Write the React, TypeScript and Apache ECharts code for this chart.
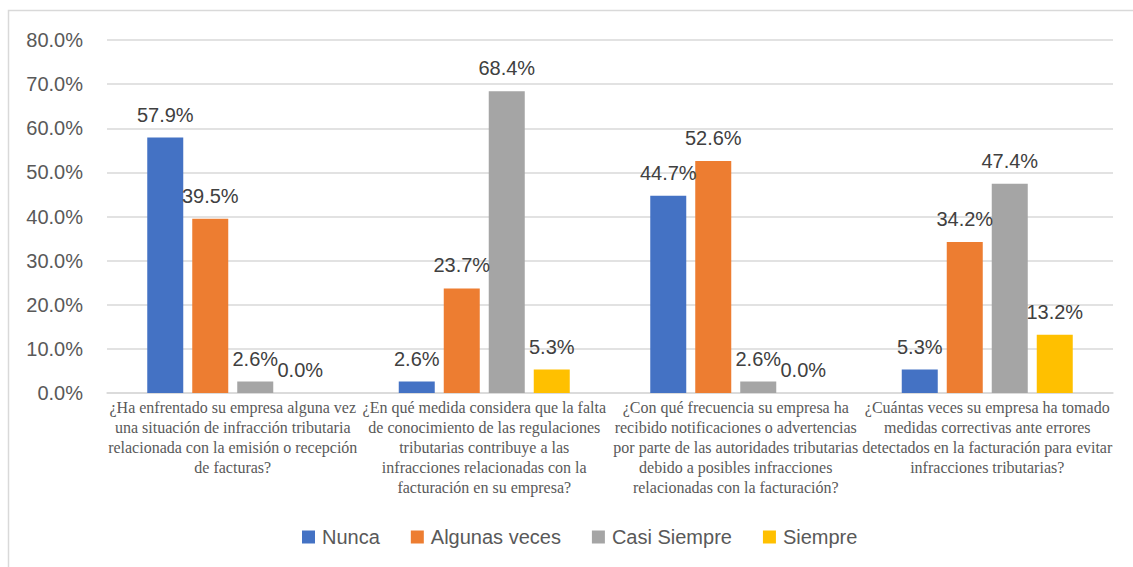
import React, { useEffect, useRef } from "react";
import * as echarts from "echarts";

const categories = [
  "¿Ha enfrentado su empresa alguna vez\nuna situación de infracción tributaria\nrelacionada con la emisión o recepción\nde facturas?",
  "¿En qué medida considera que la falta\nde conocimiento de las regulaciones\ntributarias contribuye a las\ninfracciones relacionadas con la\nfacturación en su empresa?",
  "¿Con qué frecuencia su empresa ha\nrecibido notificaciones o advertencias\npor parte de las autoridades tributarias\ndebido a posibles infracciones\nrelacionadas con la facturación?",
  "¿Cuántas veces su empresa ha tomado\nmedidas correctivas ante errores\ndetectados en la facturación para evitar\ninfracciones tributarias?",
];

const seriesNames = ["Nunca", "Algunas veces", "Casi Siempre", "Siempre"];
const nunca = [57.9, 2.6, 44.7, 5.3];
const algunasVeces = [39.5, 23.7, 52.6, 34.2];
const casiSiempre = [2.6, 68.4, 2.6, 47.4];
const siempre = [0.0, 5.3, 0.0, 13.2];
const seriesValues = [nunca, algunasVeces, casiSiempre, siempre];
const colors = ["#4472C4", "#ED7D31", "#A5A5A5", "#FFC000"];

const yMin = 0;
const yMax = 80;
const yInterval = 10;

const sans = "'Liberation Sans', Arial, sans-serif";
const serif = "'Liberation Serif', 'Times New Roman', serif";

export default function App() {
  const ref = useRef<HTMLDivElement>(null);

  useEffect(() => {
    if (!ref.current) return;
    const chart = echarts.init(ref.current, null, { renderer: "svg" });
    chart.setOption({
      animation: false,
      backgroundColor: "#ffffff",
      graphic: [
        {
          type: "rect",
          shape: { x: 8.5, y: 10.5, width: 1300, height: 700 },
          style: { fill: "none", stroke: "#d9d9d9", lineWidth: 1.5 },
          silent: true,
        },
      ],
      grid: { left: 107, right: 20, top: 40, bottom: 174, containLabel: false },
      legend: {
        left: 297,
        top: 522,
        itemWidth: 13,
        itemHeight: 13,
        itemGap: 31,
        icon: "rect",
        textStyle: { fontFamily: sans, fontSize: 20, color: "#595959", padding: [0, 0, 0, 2] },
        data: seriesNames,
      },
      xAxis: {
        type: "category",
        data: categories,
        axisTick: { show: false },
        axisLine: { lineStyle: { color: "#d9d9d9", width: 1.5 } },
        axisLabel: {
          interval: 0,
          margin: 4,
          fontFamily: serif,
          fontSize: 16,
          lineHeight: 20,
          color: "#595959",
        },
      },
      yAxis: {
        type: "value",
        min: yMin,
        max: yMax,
        interval: yInterval,
        axisLine: { show: false },
        axisTick: { show: false },
        splitLine: { lineStyle: { color: "#d9d9d9", width: 1.5 } },
        axisLabel: {
          margin: 24,
          fontFamily: sans,
          fontSize: 20,
          color: "#595959",
          formatter: (v: number) => v.toFixed(1) + "%",
        },
      },
      series: seriesNames.map((name, i) => ({
        name,
        type: "bar",
        data: seriesValues[i],
        barWidth: 36,
        barGap: "25%",
        itemStyle: { color: colors[i] },
        label: {
          show: true,
          position: "top",
          distance: 13,
          fontFamily: sans,
          fontSize: 20,
          color: "#404040",
          formatter: (p: any) => Number(p.value).toFixed(1) + "%",
        },
      })),
    });
    return () => chart.dispose();
  }, []);

  return (
    <div
      ref={ref}
      style={{ position: "absolute", left: 0, top: 0, width: 1133, height: 567, overflow: "hidden" }}
    />
  );
}
